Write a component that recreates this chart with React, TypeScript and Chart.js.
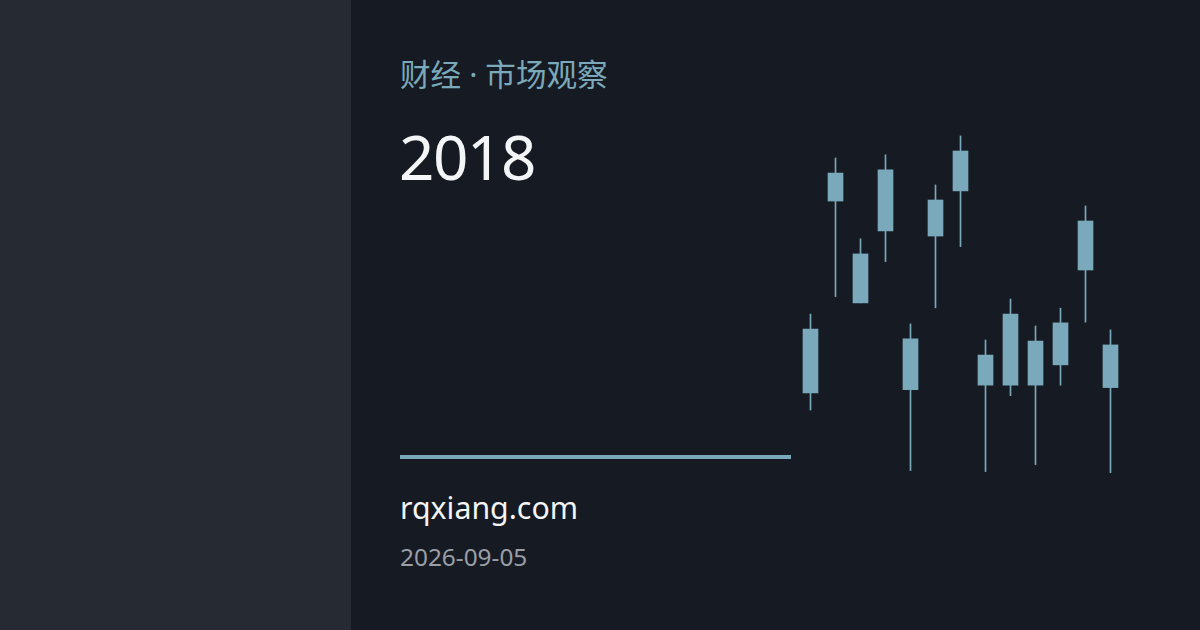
import React, { useEffect, useRef } from "react";
import { Chart, registerables } from "chart.js";

Chart.register(...registerables);

// Candlestick data (price index units)
const sessions = ["1", "2", "3", "4", "5", "6", "7", "8", "9", "10", "11", "12", "13"];
const openPrices = [24.9, 79.7, 50.6, 71.2, 25.8, 69.7, 82.6, 27.1, 27.1, 27.1, 32.9, 60.0, 26.4];
const closePrices = [43.1, 87.7, 64.6, 88.6, 40.3, 80.0, 94.0, 35.7, 47.4, 39.7, 44.9, 74.0, 38.6];
const highPrices = [47.4, 92.0, 68.9, 92.9, 44.6, 84.3, 98.3, 40.0, 51.7, 44.0, 49.1, 78.3, 42.9];
const lowPrices = [20.0, 52.4, 50.6, 62.4, 2.7, 49.2, 66.7, 2.4, 24.1, 4.4, 27.1, 45.1, 2.1];

const kicker = "财经 · 市场观察";
const yearLabel = "2018";
const siteName = "rqxiang.com";
const dateLabel = "2026-09-05";

const TEAL = "#79a9bb";
const FONT = '"Noto Sans", "Noto Sans CJK SC", sans-serif';

function CandleChart() {
  const ref = useRef<HTMLCanvasElement | null>(null);
  useEffect(() => {
    if (!ref.current) return;
    const chart = new Chart(ref.current, {
      type: "bar",
      data: {
        labels: sessions,
        datasets: [
          {
            label: "wick",
            data: sessions.map((_, i) => [lowPrices[i], highPrices[i]]) as any,
            backgroundColor: TEAL,
            borderWidth: 0,
            barThickness: 1,
            grouped: false,
            order: 2,
          } as any,
          {
            label: "body",
            data: sessions.map((_, i) => [openPrices[i], closePrices[i]]) as any,
            backgroundColor: TEAL,
            borderWidth: 0,
            barThickness: 15,
            grouped: false,
            order: 1,
          } as any,
        ],
      },
      options: {
        animation: false,
        responsive: false,
        maintainAspectRatio: false,
        layout: { padding: 0 },
        plugins: { legend: { display: false }, tooltip: { enabled: false } },
        scales: {
          x: { type: "category", display: false, offset: true, grid: { display: false } },
          y: { display: false, min: 0, max: 100, grid: { display: false } },
        },
      },
    });
    return () => chart.destroy();
  }, []);
  return (
    <canvas
      ref={ref}
      width={325}
      height={350}
      style={{ position: "absolute", left: 797.5, top: 130, width: 325, height: 350 }}
    />
  );
}

export default function App() {
  return (
    <div
      style={{
        position: "fixed",
        left: 0,
        top: 0,
        width: 1200,
        height: 630,
        background: "#161a22",
        overflow: "hidden",
        fontFamily: FONT,
      }}
    >
      <div style={{ position: "absolute", left: 0, top: 0, width: 351, height: 630, background: "#262a33" }} />
      <div
        style={{
          position: "absolute",
          left: 400,
          top: 59,
          fontSize: 30.6,
          lineHeight: 1,
          color: TEAL,
          whiteSpace: "nowrap",
        }}
      >
        {kicker}
      </div>
      <div
        style={{
          position: "absolute",
          left: 399,
          top: 125,
          fontSize: 62,
          lineHeight: 1,
          letterSpacing: -1.5,
          color: "#f4f5f7",
          whiteSpace: "nowrap",
        }}
      >
        {yearLabel}
      </div>
      <div style={{ position: "absolute", left: 400, top: 455, width: 391, height: 3.5, background: TEAL }} />
      <div
        style={{
          position: "absolute",
          left: 400,
          top: 493,
          fontSize: 30.3,
          lineHeight: 1,
          color: "#f4f5f7",
          whiteSpace: "nowrap",
        }}
      >
        {siteName}
      </div>
      <div
        style={{
          position: "absolute",
          left: 400,
          top: 545,
          fontSize: 24.4,
          lineHeight: 1,
          color: "#9a9ea6",
          whiteSpace: "nowrap",
        }}
      >
        {dateLabel}
      </div>
      <CandleChart />
    </div>
  );
}
